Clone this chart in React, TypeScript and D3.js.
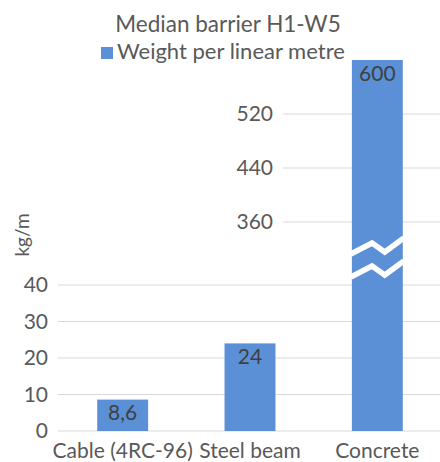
import React, { useRef, useEffect } from "react";
import * as d3 from "d3";

const categories = ["Cable (4RC-96)", "Steel beam", "Concrete"];
const values = [8.6, 24, 600];
const valueLabels = ["8,6", "24", "600"];
const lowerTicks = [0, 10, 20, 30, 40];
const upperTicks = [360, 440, 520];
const title = "Median barrier H1-W5";
const seriesName = "Weight per linear metre";
const yTitle = "kg/m";

const FONT = "Lato, 'Open Sans', sans-serif";
const BLUE = "#5b8fd6";

const BrokenBarChart = ({ width, height }: { width: number; height: number }) => {
  const ref = useRef(null);

  useEffect(() => {
    const svg = d3.select(ref.current);
    svg.selectAll("*").remove();
    svg.attr("width", width).attr("height", height);

    const x = d3
      .scaleBand()
      .domain(categories)
      .range([59, 441])
      .paddingInner(0.6)
      .paddingOuter(0.3);
    const bw = x.bandwidth();

    // two linear pieces for the broken axis
    const yLow = d3.scaleLinear().domain([0, 40]).range([431, 285]);
    const yHigh = d3.scaleLinear().domain([360, 600]).range([222, 60]);
    const y = (v: number) => (v <= 40 ? yLow(v) : yHigh(v));

    // gridlines: lower part spans the whole plot, upper part starts after its labels
    const grid = svg.append("g").attr("stroke", "#d9d9d9").attr("stroke-width", 1);
    lowerTicks.forEach((t) => {
      grid.append("line").attr("x1", 58).attr("x2", 440).attr("y1", yLow(t)).attr("y2", yLow(t));
    });
    upperTicks.forEach((t) => {
      grid.append("line").attr("x1", 283).attr("x2", 440).attr("y1", yHigh(t)).attr("y2", yHigh(t));
    });

    // tick labels
    const tickG = svg.append("g").attr("font-family", FONT).attr("font-size", 21).attr("fill", "#595959");
    lowerTicks.forEach((t) => {
      tickG
        .append("text")
        .attr("x", 48)
        .attr("y", yLow(t))
        .attr("dy", "0.35em")
        .attr("text-anchor", "end")
        .text(t);
    });
    upperTicks.forEach((t) => {
      tickG
        .append("text")
        .attr("x", 273)
        .attr("y", yHigh(t))
        .attr("dy", "0.35em")
        .attr("text-anchor", "end")
        .text(t);
    });

    // bars
    svg
      .append("g")
      .selectAll("rect")
      .data(values)
      .enter()
      .append("rect")
      .attr("x", (d, i) => x(categories[i]) as number)
      .attr("width", bw)
      .attr("y", (d) => y(d))
      .attr("height", (d) => yLow(0) - y(d))
      .attr("fill", BLUE);

    // break marks on the concrete bar
    const bx = x("Concrete") as number;
    const mid = (yLow(40) + yHigh(360)) / 2;
    const zig = [
      [0, 0.5],
      [0.4, -10.5],
      [0.64, -1.5],
      [1, -15.5],
    ];
    const line = d3.line();
    [0, 23].forEach((off) => {
      svg
        .append("path")
        .attr(
          "d",
          line(zig.map(([fx, fy]) => [bx - 1 + fx * (bw + 2), mid + fy + off]) as [number, number][])
        )
        .attr("fill", "none")
        .attr("stroke", "white")
        .attr("stroke-width", 5.5)
        .attr("stroke-linejoin", "miter");
    });

    // data labels
    svg
      .append("g")
      .selectAll("text")
      .data(values)
      .enter()
      .append("text")
      .attr("x", (d, i) => (x(categories[i]) as number) + bw / 2)
      .attr("y", (d) => y(d) + 13.5)
      .attr("dy", "0.35em")
      .attr("text-anchor", "middle")
      .attr("font-family", FONT)
      .attr("font-size", 21)
      .attr("fill", "#404040")
      .text((d, i) => valueLabels[i]);

    // category labels
    svg
      .append("g")
      .selectAll("text")
      .data(categories)
      .enter()
      .append("text")
      .attr("x", (d) => (x(d) as number) + bw / 2)
      .attr("y", 451)
      .attr("dy", "0.35em")
      .attr("text-anchor", "middle")
      .attr("font-family", FONT)
      .attr("font-size", 21)
      .attr("fill", "#595959")
      .text((d) => d);

    // y axis title
    svg
      .append("text")
      .attr("transform", "translate(22,235) rotate(-90)")
      .attr("dy", "0.35em")
      .attr("text-anchor", "middle")
      .attr("font-family", FONT)
      .attr("font-size", 19)
      .attr("fill", "#595959")
      .text(yTitle);

    // title
    svg
      .append("text")
      .attr("x", 228)
      .attr("y", 24)
      .attr("dy", "0.35em")
      .attr("text-anchor", "middle")
      .attr("font-family", FONT)
      .attr("font-size", 22.5)
      .attr("fill", "#595959")
      .text(title);

    // legend
    svg
      .append("rect")
      .attr("x", 101)
      .attr("y", 47)
      .attr("width", 12)
      .attr("height", 12)
      .attr("fill", BLUE);
    svg
      .append("text")
      .attr("x", 117)
      .attr("y", 51.5)
      .attr("dy", "0.35em")
      .attr("font-family", FONT)
      .attr("font-size", 22)
      .attr("fill", "#595959")
      .text(seriesName);
  }, [width, height]);

  return <svg ref={ref} style={{ position: "absolute", left: 0, top: 0 }}></svg>;
};

export default function App() {
  return <BrokenBarChart width={440} height={462} />;
}
